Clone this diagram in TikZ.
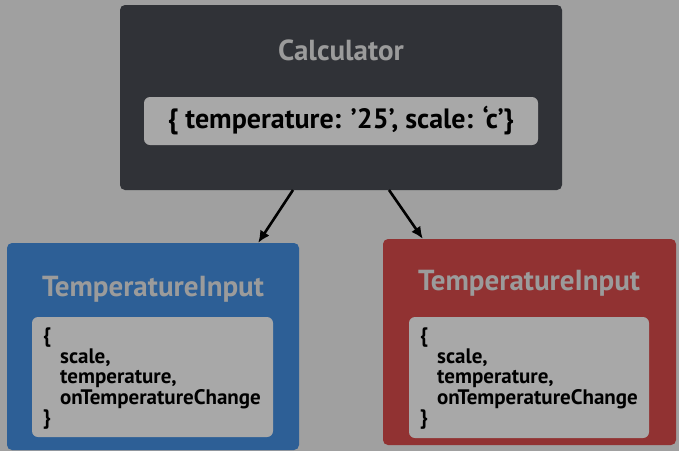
\documentclass[tikz,border=0pt]{standalone}
\usepackage{fontspec}
\setmainfont{PT Sans}
\usetikzlibrary{arrows.meta}

\definecolor{bggray}{HTML}{A0A0A0}
\definecolor{calcdark}{HTML}{303237}
\definecolor{inputblue}{HTML}{2D5F96}
\definecolor{inputred}{HTML}{913232}
\definecolor{pillgray}{HTML}{A8A8A8}
\definecolor{titlegray}{HTML}{9B9B9B}

\tikzset{
  compbox/.style={rounded corners=5pt, inner sep=0pt},
  pillbox/.style={fill=pillgray, rounded corners=6pt, inner sep=0pt},
  comptitle/.style={text=titlegray, font=\bfseries\fontsize{29}{32}\selectfont},
  propstext/.style={anchor=north west, align=left, inner sep=0pt,
    font=\bfseries\fontsize{21}{20.5}\selectfont},
  flow/.style={-{Latex[length=12pt,width=11pt]}, line width=2.6pt}
}

\begin{document}
\begin{tikzpicture}[x=1pt,y=-1pt]
\fill[bggray] (0,0) rectangle (679,451);
\useasboundingbox (0,0) rectangle (679,451);

% parent component
\node[compbox, fill=calcdark, minimum width=442, minimum height=185] (calc) at (341,97.5) {};
\node[comptitle] (calctitle) at (341,50) {Calculator};
\node[pillbox, minimum width=394, minimum height=48] (calcpill) at (341,121) {};
\node[font=\bfseries\fontsize{28}{30}\selectfont] (calcstate) at (341,121) {\{ temperature: ’25’, scale: ‘c’\}};

% left child
\node[compbox, fill=inputblue, minimum width=292, minimum height=207] (leftbox) at (153,346.5) {};
\node[comptitle] (lefttitle) at (153,289) {TemperatureInput};
\node[pillbox, minimum width=241, minimum height=120] (leftpill) at (152.5,377) {};
\node[propstext] (leftprops) at (43,328) {\{\\\hspace*{17pt}scale,\\\hspace*{17pt}temperature,\\\hspace*{17pt}onTemperatureChange\\\}};

% right child
\node[compbox, fill=inputred, minimum width=293, minimum height=206] (rightbox) at (529.5,342) {};
\node[comptitle] (righttitle) at (529,283) {TemperatureInput};
\node[pillbox, minimum width=240, minimum height=121] (rightpill) at (529,377.5) {};
\node[propstext] (rightprops) at (420,328) {\{\\\hspace*{17pt}scale,\\\hspace*{17pt}temperature,\\\hspace*{17pt}onTemperatureChange\\\}};

% props flow down
\coordinate (calcL) at (293,190);
\coordinate (calcR) at (389,190);
\draw[flow] (calcL) -- ([xshift=-41pt]leftbox.north east);
\draw[flow] (calcR) -- ([xshift=40pt]rightbox.north west);
\end{tikzpicture}
\end{document}
